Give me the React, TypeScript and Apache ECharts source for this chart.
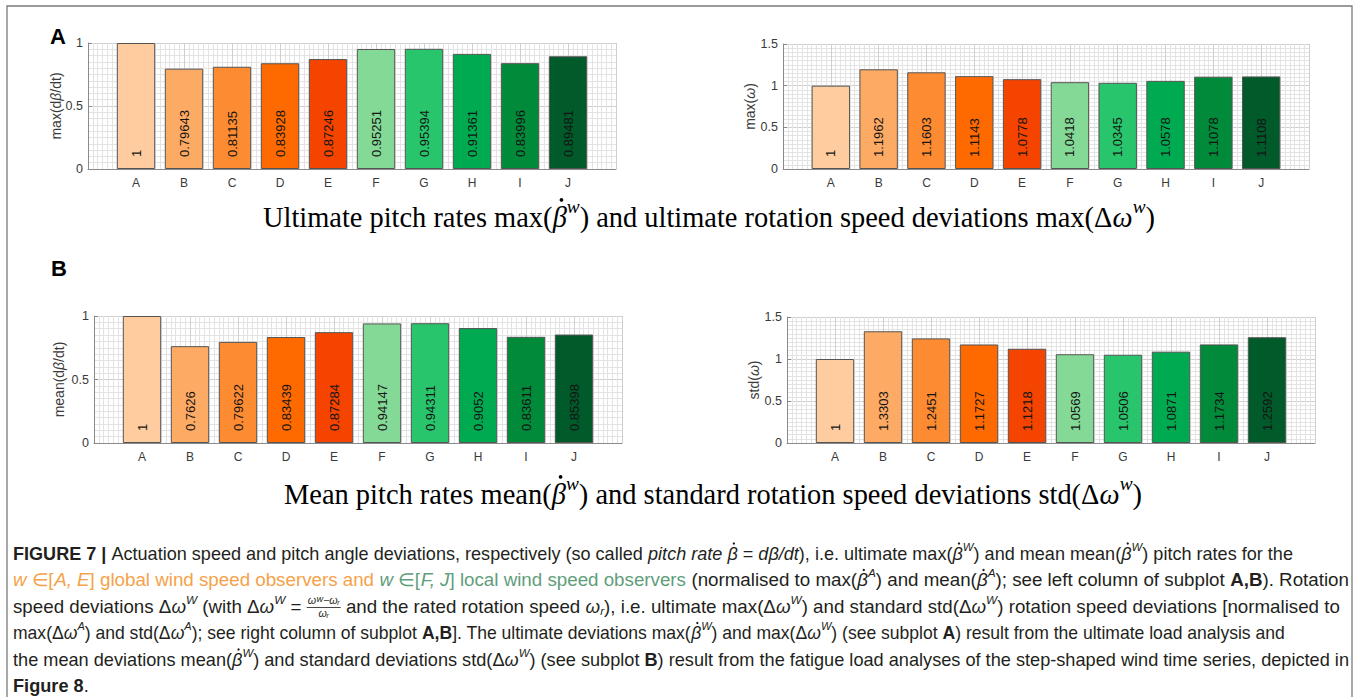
import React, { useEffect, useRef } from 'react';
import * as echarts from 'echarts';

// ---------------- data ----------------
const categories = ['A', 'B', 'C', 'D', 'E', 'F', 'G', 'H', 'I', 'J'];
const maxPitchRate = [1, 0.79643, 0.81135, 0.83928, 0.87246, 0.95251, 0.95394, 0.91361, 0.83996, 0.89481];
const maxRotSpeedDev = [1, 1.1962, 1.1603, 1.1143, 1.0778, 1.0418, 1.0345, 1.0578, 1.1078, 1.1108];
const meanPitchRate = [1, 0.7626, 0.79622, 0.83439, 0.87284, 0.94147, 0.94311, 0.9052, 0.83611, 0.85398];
const stdRotSpeedDev = [1, 1.3303, 1.2451, 1.1727, 1.1218, 1.0569, 1.0506, 1.0871, 1.1734, 1.2592];
const barColors = ['#FECC9E', '#FDAA65', '#FD8B32', '#FF6A00', '#F54400', '#85D996', '#28C56C', '#00AA50', '#008A3A', '#005A2A'];
const leftTicks = [0, 0.5, 1];
const rightTicks = [0, 0.5, 1, 1.5];

type Tok = [string, string];

const yName1: Tok[] = [['n', 'max(d'], ['i', 'β'], ['n', '/dt)']];
const yName2: Tok[] = [['n', 'max('], ['i', 'ω'], ['n', ')']];
const yName3: Tok[] = [['n', 'mean(d'], ['i', 'β'], ['n', '/dt)']];
const yName4: Tok[] = [['n', 'std('], ['i', 'ω'], ['n', ')']];

const title1: Tok[] = [['n', 'Ultimate pitch rates max('], ['i', 'β\u0307'], ['p', 'w'], ['n', ') and ultimate rotation speed deviations max(Δ'], ['i', 'ω'], ['p', 'w'], ['n', ')']];
const title2: Tok[] = [['n', 'Mean pitch rates mean('], ['i', 'β\u0307'], ['p', 'w'], ['n', ') and standard rotation speed deviations std(Δ'], ['i', 'ω'], ['p', 'w'], ['n', ')']];

const caption: Tok[][] = [
  [['b', 'FIGURE 7 | '], ['n', 'Actuation speed and pitch angle deviations, respectively (so called '], ['i', 'pitch rate β\u0307'], ['n', ' = '], ['i', 'dβ/dt'], ['n', '), i.e. ultimate max('], ['i', 'β\u0307'], ['p', 'W'], ['n', ') and mean mean('], ['i', 'β\u0307'], ['p', 'W'], ['n', ') pitch rates for the']],
  [['oi', 'w'], ['o', ' ∈['], ['oi', 'A, E'], ['o', '] global wind speed observers and '], ['gi', 'w'], ['g', ' ∈['], ['gi', 'F, J'], ['g', '] local wind speed observers'], ['n', ' (normalised to max('], ['i', 'β\u0307'], ['p', 'A'], ['n', ') and mean('], ['i', 'β\u0307'], ['p', 'A'], ['n', '); see left column of subplot '], ['b', 'A,B'], ['n', '). Rotation']],
  [['n', 'speed deviations Δ'], ['i', 'ω'], ['p', 'W'], ['n', ' (with Δ'], ['i', 'ω'], ['p', 'W'], ['n', ' = '], ['f', 'ωᵂ−ωᵣ|ωᵣ'], ['n', ' and the rated rotation speed '], ['i', 'ω'], ['q', 'r'], ['n', '), i.e. ultimate max(Δ'], ['i', 'ω'], ['p', 'W'], ['n', ') and standard std(Δ'], ['i', 'ω'], ['p', 'W'], ['n', ') rotation speed deviations [normalised to']],
  [['n', 'max(Δ'], ['i', 'ω'], ['p', 'A'], ['n', ') and std(Δ'], ['i', 'ω'], ['p', 'A'], ['n', '); see right column of subplot '], ['b', 'A,B'], ['n', ']. The ultimate deviations max('], ['i', 'β\u0307'], ['p', 'W'], ['n', ') and max(Δ'], ['i', 'ω'], ['p', 'W'], ['n', ') (see subplot '], ['b', 'A'], ['n', ') result from the ultimate load analysis and']],
  [['n', 'the mean deviations mean('], ['i', 'β\u0307'], ['p', 'W'], ['n', ') and standard deviations std(Δ'], ['i', 'ω'], ['p', 'W'], ['n', ') (see subplot '], ['b', 'B'], ['n', ') result from the fatigue load analyses of the step-shaped wind time series, depicted in']],
  [['b', 'Figure 8'], ['n', '.']],
];

// ---------------- layout helpers ----------------
const SANS = '"Liberation Sans", Arial, sans-serif';
const SERIF = '"Liberation Serif", "Times New Roman", serif';
const TXT = '#231f20';
const ORANGE = '#F5A24A';
const GREEN = '#5F9E7B';
const DOT = '\u0307';
const LABEL_GRAY = '#3a3a3a';

type St = { size: number; italic?: boolean; bold?: boolean; color: string; dy?: number };

let measureCtx: CanvasRenderingContext2D | null = null;
function measure(text: string, st: St, family: string) {
  if (!measureCtx) measureCtx = document.createElement('canvas').getContext('2d');
  measureCtx!.font = `${st.italic ? 'italic' : 'normal'} ${st.bold ? 'bold' : 'normal'} ${st.size}px ${family}`;
  return measureCtx!.measureText(text).width;
}

function textEl(text: string, x: number, st: St, family: string) {
  return {
    type: 'text',
    x,
    y: st.dy || 0,
    silent: true,
    style: {
      text,
      fontSize: st.size,
      fontFamily: family,
      fontStyle: st.italic ? 'italic' : 'normal',
      fontWeight: st.bold ? 'bold' : 'normal',
      fill: st.color,
      textAlign: 'left',
      textVerticalAlign: 'middle',
    },
  };
}

function buildLine(tokens: Tok[], styles: Record<string, St>, family: string) {
  let x = 0;
  const children: any[] = [];
  for (const [k, raw] of tokens) {
    if (k === 'f') {
      const [num, den] = raw.split('|');
      const fs: St = { size: 10, italic: true, color: TXT };
      const wn = measure(num, fs, family);
      const wd = measure(den, fs, family);
      const w = Math.max(wn, wd) + 2;
      children.push(textEl(num, x + (w - wn) / 2, { ...fs, dy: -6 }, family));
      children.push(textEl(den, x + (w - wd) / 2, { ...fs, dy: 7 }, family));
      children.push({ type: 'line', silent: true, shape: { x1: x, y1: 0.5, x2: x + w, y2: 0.5 }, style: { stroke: TXT, lineWidth: 0.8 } });
      x += w;
      continue;
    }
    const st = styles[k];
    const t = raw.split(DOT).join('');
    let plainIdx = 0;
    for (let j = 0; j < raw.length; j++) {
      if (raw[j] === DOT) {
        const before = t.slice(0, plainIdx - 1);
        const ch = t[plainIdx - 1];
        const cx = x + measure(before, st, family) + measure(ch, st, family) * 0.62;
        children.push({ type: 'circle', silent: true, shape: { cx, cy: (st.dy || 0) - st.size * 0.6, r: Math.max(0.9, st.size * 0.065) }, style: { fill: st.color } });
      } else {
        plainIdx++;
      }
    }
    children.push(textEl(t, x, st, family));
    x += measure(t, st, family);
  }
  return { children, width: x };
}

const CS = 17.5;
const capStyles: Record<string, St> = {
  n: { size: CS, color: TXT },
  b: { size: CS, bold: true, color: TXT },
  i: { size: CS, italic: true, color: TXT },
  p: { size: 11, italic: true, color: TXT, dy: -7 },
  q: { size: 11, italic: true, color: TXT, dy: 4 },
  o: { size: CS, color: ORANGE },
  oi: { size: CS, italic: true, color: ORANGE },
  g: { size: CS, color: GREEN },
  gi: { size: CS, italic: true, color: GREEN },
};

const titleStyles: Record<string, St> = {
  n: { size: 25, color: '#000' },
  i: { size: 25, italic: true, color: '#000' },
  p: { size: 17, italic: true, color: '#000', dy: -9 },
};

const nameStyles: Record<string, St> = {
  n: { size: 14, color: LABEL_GRAY },
  i: { size: 14, italic: true, color: LABEL_GRAY },
};

// ---------------- component ----------------
export default function App() {
  const ref = useRef<HTMLDivElement>(null);

  useEffect(() => {
    if (!ref.current) return;
    const chart = echarts.init(ref.current, null, { renderer: 'svg' });

    const panels = [
      { grid: { left: 88, top: 43, width: 528, height: 126 }, data: maxPitchRate, ticks: leftTicks, name: yName1, nameX: 56 },
      { grid: { left: 783, top: 44, width: 526, height: 125 }, data: maxRotSpeedDev, ticks: rightTicks, name: yName2, nameX: 750 },
      { grid: { left: 94, top: 316, width: 528, height: 127 }, data: meanPitchRate, ticks: leftTicks, name: yName3, nameX: 59 },
      { grid: { left: 787, top: 317, width: 528, height: 126 }, data: stdRotSpeedDev, ticks: rightTicks, name: yName4, nameX: 754 },
    ];

    const axisGray = '#8a8a8a';
    const majorGrid = '#cfcfcf';
    const minorGrid = '#e3e3e3';

    const grids = panels.map((p) => ({ ...p.grid, containLabel: false }));
    const xAxes = panels.map((_, i) => ({
      type: 'value',
      gridIndex: i,
      min: 0,
      max: categories.length + 1,
      interval: 1,
      axisLine: { show: true, onZero: false, lineStyle: { color: axisGray, width: 1 } },
      axisTick: { show: false },
      axisLabel: {
        formatter: (v: number) => categories[v - 1] ?? '',
        color: LABEL_GRAY,
        fontSize: 12,
        fontFamily: SANS,
        margin: 8,
      },
      splitLine: { show: true, lineStyle: { color: majorGrid, width: 1 } },
      minorTick: { show: false, splitNumber: 10 },
      minorSplitLine: { show: true, lineStyle: { color: minorGrid, width: 1 } },
    }));
    const yAxes = panels.map((p, i) => ({
      type: 'value',
      gridIndex: i,
      min: p.ticks[0],
      max: p.ticks[p.ticks.length - 1],
      interval: p.ticks[1] - p.ticks[0],
      axisLine: { show: true, onZero: false, lineStyle: { color: axisGray, width: 1 } },
      axisTick: { show: true, inside: true, length: 4, lineStyle: { color: axisGray } },
      axisLabel: {
        formatter: (v: number) => String(v),
        color: LABEL_GRAY,
        fontSize: 12.5,
        fontFamily: SANS,
        margin: 5,
      },
      splitLine: { show: true, lineStyle: { color: majorGrid, width: 1 } },
      minorTick: { show: false, splitNumber: 10 },
      minorSplitLine: { show: true, lineStyle: { color: minorGrid, width: 1 } },
    }));
    const series = panels.map((p, i) => ({
      type: 'bar',
      xAxisIndex: i,
      yAxisIndex: i,
      barWidth: 38.4,
      data: p.data.map((v, j) => ({ value: [j + 1, v], itemStyle: { color: barColors[j] } })),
      itemStyle: { borderColor: '#555555', borderWidth: 1 },
      label: {
        show: true,
        position: 'insideBottom',
        rotate: 90,
        align: 'left',
        verticalAlign: 'middle',
        distance: 12,
        fontSize: 13,
        fontFamily: SANS,
        color: '#141414',
        formatter: (params: any) => String(params.value[1]),
      },
    }));

    const graphics: any[] = [];
    graphics.push({ type: 'rect', silent: true, shape: { x: 7, y: 6, width: 1345, height: 760 }, style: { fill: 'none', stroke: '#7a7a7a', lineWidth: 1.3 } });
    graphics.push({ type: 'text', x: 50, y: 36, silent: true, style: { text: 'A', fontSize: 22, fontWeight: 'bold', fontFamily: SANS, fill: '#000', textVerticalAlign: 'middle' } });
    graphics.push({ type: 'text', x: 51, y: 268, silent: true, style: { text: 'B', fontSize: 22, fontWeight: 'bold', fontFamily: SANS, fill: '#000', textVerticalAlign: 'middle' } });

    panels.forEach((p) => {
      const line = buildLine(p.name, nameStyles, SANS);
      const cy = p.grid.top + p.grid.height / 2;
      graphics.push({
        type: 'group',
        x: p.nameX,
        y: cy,
        rotation: Math.PI / 2,
        children: [{ type: 'group', x: -line.width / 2, y: 0, children: line.children }],
      });
    });

    const titles = [
      { toks: title1, x0: 263, x1: 1155, y: 217 },
      { toks: title2, x0: 284, x1: 1142, y: 494 },
    ];
    titles.forEach((t) => {
      const line = buildLine(t.toks, titleStyles, SERIF);
      const s = (t.x1 - t.x0) / line.width;
      graphics.push({ type: 'group', x: t.x0, y: t.y, scaleX: s, scaleY: s, children: line.children });
    });

    const capLines = [
      { x0: 13, x1: 1293, y: 554 },
      { x0: 13, x1: 1349, y: 580.5 },
      { x0: 13, x1: 1340, y: 607 },
      { x0: 13, x1: 1285, y: 633.5 },
      { x0: 13, x1: 1349, y: 660 },
      { x0: 13, x1: 0, y: 686.5 },
    ];
    let lastScale = 0.9;
    caption.forEach((toks, i) => {
      const c = capLines[i];
      const line = buildLine(toks, capStyles, SANS);
      const s = c.x1 > 0 ? (c.x1 - c.x0) / line.width : lastScale;
      lastScale = s;
      graphics.push({ type: 'group', x: c.x0, y: c.y, scaleX: s, scaleY: 1, children: line.children });
    });

    chart.setOption({
      animation: false,
      backgroundColor: '#ffffff',
      grid: grids,
      xAxis: xAxes,
      yAxis: yAxes,
      series,
      graphic: { elements: graphics },
    });

    return () => chart.dispose();
  }, []);

  return <div ref={ref} style={{ position: 'fixed', left: 0, top: 0, width: 1356, height: 697 }} />;
}
